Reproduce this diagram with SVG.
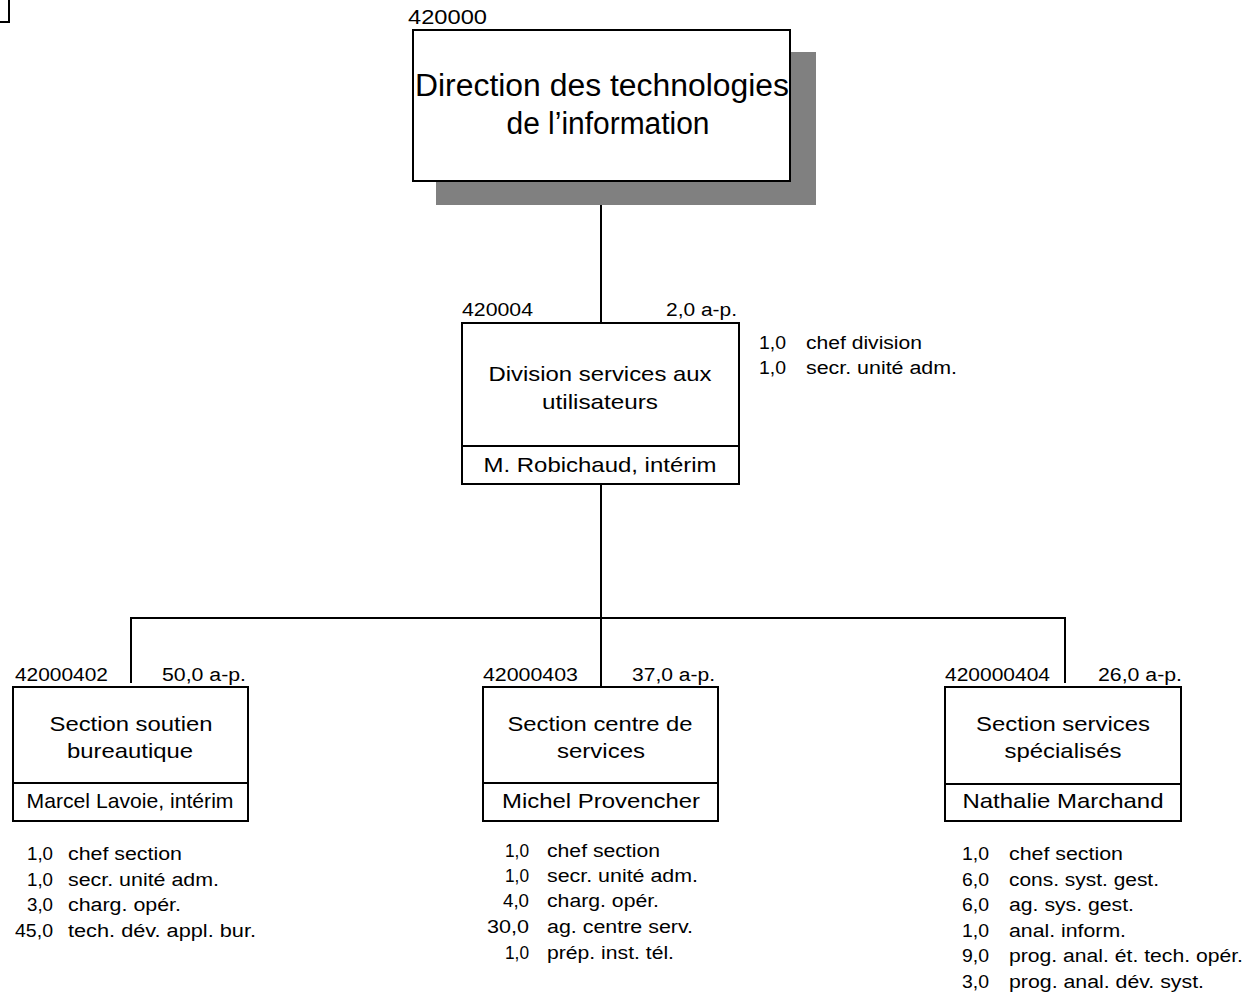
<svg xmlns="http://www.w3.org/2000/svg" width="1249" height="995" viewBox="0 0 1249 995">
<style>
text{font-family:"Liberation Sans",Arial,sans-serif;fill:#000}
.box{fill:#fff;stroke:#000;stroke-width:2}
.ln{stroke:#000;stroke-width:2;fill:none}
.lb{font-size:18px}
.bt{font-size:21px;text-anchor:middle}
.nm{font-size:21px;text-anchor:middle}
.li{font-size:18px}
.r{text-anchor:end}
</style>
<g id="corner"><path class="ln" d="M9,0 V22 H0"/></g>
<g id="connectors">
<line class="ln" x1="601" y1="181" x2="601" y2="323"/>
<line class="ln" x1="601" y1="484" x2="601" y2="618"/>
<line class="ln" x1="131" y1="618" x2="1065" y2="618"/>
<line class="ln" x1="131" y1="617" x2="131" y2="683"/>
<line class="ln" x1="601" y1="618" x2="601" y2="687"/>
<line class="ln" x1="1065" y1="617" x2="1065" y2="683"/>
</g>
<g id="n420000">
<rect x="436" y="52" width="380" height="153" fill="#808080"/>
<rect class="box" x="413" y="30" width="377" height="151"/>
<text x="408" y="24" font-size="21" textLength="79" lengthAdjust="spacingAndGlyphs">420000</text>
<text x="602" y="96" font-size="31" text-anchor="middle" textLength="374" lengthAdjust="spacingAndGlyphs">Direction des technologies</text>
<text x="608" y="134" font-size="31" text-anchor="middle" textLength="203" lengthAdjust="spacingAndGlyphs">de l’information</text>
</g>
<g id="n420004">
<rect class="box" x="462" y="323" width="277" height="161"/>
<line class="ln" x1="462" y1="446" x2="739" y2="446"/>
<text class="lb" x="462" y="316" textLength="71" lengthAdjust="spacingAndGlyphs">420004</text>
<text class="lb r" x="737" y="316" textLength="71" lengthAdjust="spacingAndGlyphs">2,0 a-p.</text>
<text class="bt" x="600" y="381" textLength="223" lengthAdjust="spacingAndGlyphs">Division services aux</text>
<text class="bt" x="600" y="409" textLength="116" lengthAdjust="spacingAndGlyphs">utilisateurs</text>
<text class="nm" x="600" y="472" textLength="233" lengthAdjust="spacingAndGlyphs">M. Robichaud, intérim</text>
<text class="li" x="759" y="349" textLength="27" lengthAdjust="spacingAndGlyphs">1,0</text>
<text class="li" x="806" y="349" textLength="116" lengthAdjust="spacingAndGlyphs">chef division</text>
<text class="li" x="759" y="374" textLength="27" lengthAdjust="spacingAndGlyphs">1,0</text>
<text class="li" x="806" y="374" textLength="151" lengthAdjust="spacingAndGlyphs">secr. unité adm.</text>
</g>
<g id="n42000402">
<rect class="box" x="13" y="687" width="235" height="134"/>
<line class="ln" x1="13" y1="783" x2="248" y2="783"/>
<text class="lb" x="15" y="681" textLength="93" lengthAdjust="spacingAndGlyphs">42000402</text>
<text class="lb r" x="246" y="681" textLength="84" lengthAdjust="spacingAndGlyphs">50,0 a-p.</text>
<text class="bt" x="131" y="731" textLength="163" lengthAdjust="spacingAndGlyphs">Section soutien</text>
<text class="bt" x="130" y="758" textLength="126" lengthAdjust="spacingAndGlyphs">bureautique</text>
<text class="nm" x="130" y="808" font-size="19" textLength="207" lengthAdjust="spacingAndGlyphs">Marcel Lavoie, intérim</text>
<text class="li r" x="53" y="860" textLength="26" lengthAdjust="spacingAndGlyphs">1,0</text><text class="li" x="68" y="860" textLength="114" lengthAdjust="spacingAndGlyphs">chef section</text>
<text class="li r" x="53" y="886" textLength="26" lengthAdjust="spacingAndGlyphs">1,0</text><text class="li" x="68" y="886" textLength="151" lengthAdjust="spacingAndGlyphs">secr. unité adm.</text>
<text class="li r" x="53" y="911" textLength="26" lengthAdjust="spacingAndGlyphs">3,0</text><text class="li" x="68" y="911" textLength="113" lengthAdjust="spacingAndGlyphs">charg. opér.</text>
<text class="li r" x="53" y="937" textLength="38" lengthAdjust="spacingAndGlyphs">45,0</text><text class="li" x="68" y="937" textLength="188" lengthAdjust="spacingAndGlyphs">tech. dév. appl. bur.</text>
</g>
<g id="n42000403">
<rect class="box" x="483" y="687" width="235" height="134"/>
<line class="ln" x1="483" y1="783" x2="718" y2="783"/>
<text class="lb" x="483" y="681" textLength="95" lengthAdjust="spacingAndGlyphs">42000403</text>
<text class="lb r" x="715" y="681" textLength="83" lengthAdjust="spacingAndGlyphs">37,0 a-p.</text>
<text class="bt" x="600" y="731" textLength="185" lengthAdjust="spacingAndGlyphs">Section centre de</text>
<text class="bt" x="601" y="758" textLength="88" lengthAdjust="spacingAndGlyphs">services</text>
<text class="nm" x="601" y="808" textLength="198" lengthAdjust="spacingAndGlyphs">Michel Provencher</text>
<text class="li r" x="529" y="857" textLength="24" lengthAdjust="spacingAndGlyphs">1,0</text><text class="li" x="547" y="857" textLength="113" lengthAdjust="spacingAndGlyphs">chef section</text>
<text class="li r" x="529" y="882" textLength="24" lengthAdjust="spacingAndGlyphs">1,0</text><text class="li" x="547" y="882" textLength="151" lengthAdjust="spacingAndGlyphs">secr. unité adm.</text>
<text class="li r" x="529" y="907" textLength="26" lengthAdjust="spacingAndGlyphs">4,0</text><text class="li" x="547" y="907" textLength="112" lengthAdjust="spacingAndGlyphs">charg. opér.</text>
<text class="li r" x="529" y="933" textLength="42" lengthAdjust="spacingAndGlyphs">30,0</text><text class="li" x="547" y="933" textLength="146" lengthAdjust="spacingAndGlyphs">ag. centre serv.</text>
<text class="li r" x="529" y="959" textLength="24" lengthAdjust="spacingAndGlyphs">1,0</text><text class="li" x="547" y="959" textLength="127" lengthAdjust="spacingAndGlyphs">prép. inst. tél.</text>
</g>
<g id="n420000404">
<rect class="box" x="945" y="687" width="236" height="134"/>
<line class="ln" x1="945" y1="784" x2="1181" y2="784"/>
<text class="lb" x="945" y="681" textLength="105" lengthAdjust="spacingAndGlyphs">420000404</text>
<text class="lb r" x="1182" y="681" textLength="84" lengthAdjust="spacingAndGlyphs">26,0 a-p.</text>
<text class="bt" x="1063" y="731" textLength="174" lengthAdjust="spacingAndGlyphs">Section services</text>
<text class="bt" x="1063" y="758" textLength="117" lengthAdjust="spacingAndGlyphs">spécialisés</text>
<text class="nm" x="1063" y="808" textLength="201" lengthAdjust="spacingAndGlyphs">Nathalie Marchand</text>
<text class="li r" x="989" y="860" textLength="27" lengthAdjust="spacingAndGlyphs">1,0</text><text class="li" x="1009" y="860" textLength="114" lengthAdjust="spacingAndGlyphs">chef section</text>
<text class="li r" x="989" y="886" textLength="27" lengthAdjust="spacingAndGlyphs">6,0</text><text class="li" x="1009" y="886" textLength="150" lengthAdjust="spacingAndGlyphs">cons. syst. gest.</text>
<text class="li r" x="989" y="911" textLength="27" lengthAdjust="spacingAndGlyphs">6,0</text><text class="li" x="1009" y="911" textLength="125" lengthAdjust="spacingAndGlyphs">ag. sys. gest.</text>
<text class="li r" x="989" y="937" textLength="27" lengthAdjust="spacingAndGlyphs">1,0</text><text class="li" x="1009" y="937" textLength="117" lengthAdjust="spacingAndGlyphs">anal. inform.</text>
<text class="li r" x="989" y="962" textLength="27" lengthAdjust="spacingAndGlyphs">9,0</text><text class="li" x="1009" y="962" textLength="234" lengthAdjust="spacingAndGlyphs">prog. anal. ét. tech. opér.</text>
<text class="li r" x="989" y="988" textLength="27" lengthAdjust="spacingAndGlyphs">3,0</text><text class="li" x="1009" y="988" textLength="195" lengthAdjust="spacingAndGlyphs">prog. anal. dév. syst.</text>
</g>
</svg>
